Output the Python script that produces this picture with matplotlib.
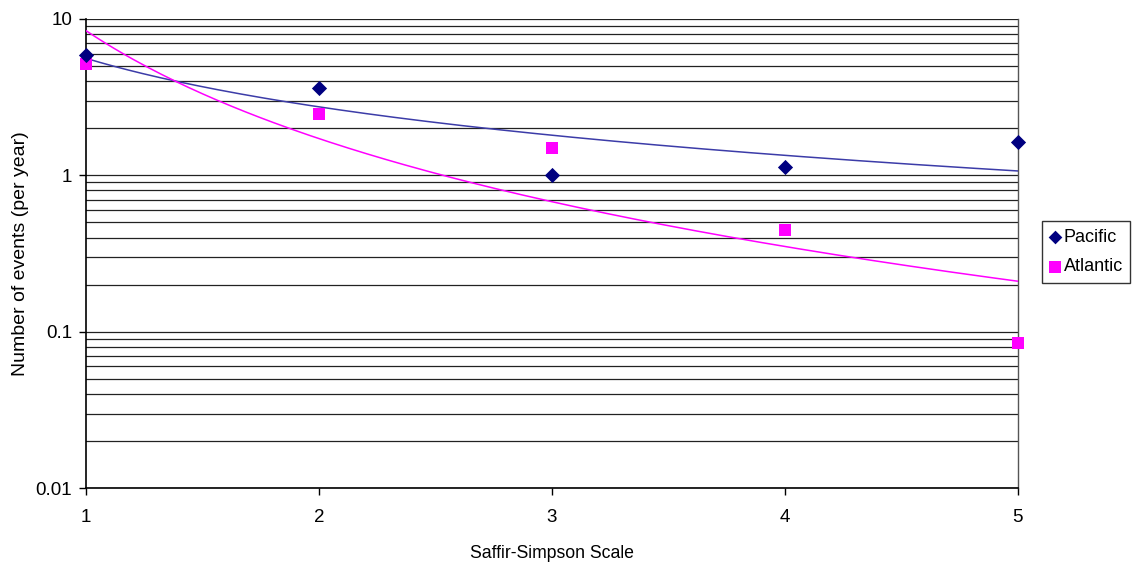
import numpy as np
import matplotlib
matplotlib.use("Agg")
import matplotlib.pyplot as plt
from matplotlib.ticker import FixedLocator, FixedFormatter, NullFormatter, LogLocator

plt.rcParams['font.family'] = ['Liberation Sans', 'DejaVu Sans']

scale = [1, 2, 3, 4, 5]
pacific = [5.88, 3.61, 1.01, 1.13, 1.63]
atlantic = [5.15, 2.46, 1.49, 0.45, 0.085]

fig = plt.figure(figsize=(11.32, 5.71), dpi=100)
ax = fig.add_axes([0.076, 0.145, 0.823, 0.822])
ax.set_yscale('log')
ax.set_xlim(1, 5)
ax.set_ylim(0.01, 10)

# horizontal gridlines at all log ticks
ax.yaxis.set_major_locator(FixedLocator([0.01, 0.1, 1, 10]))
ax.yaxis.set_major_formatter(FixedFormatter(['0.01', '0.1', '1', '10']))
ax.yaxis.set_minor_locator(LogLocator(base=10, subs=np.arange(2, 10)))
ax.yaxis.set_minor_formatter(NullFormatter())
ax.grid(True, which='both', axis='y', color='#222222', linewidth=0.9)
ax.set_axisbelow(True)

ax.set_xticks(scale)
ax.set_xticklabels([str(s) for s in scale])

ax.tick_params(axis='both', which='major', direction='out', length=5, width=1, labelsize=13.5)
ax.tick_params(axis='x', which='major', pad=10)
ax.tick_params(axis='y', which='major', pad=5)
ax.tick_params(axis='y', which='minor', length=0)

for s in ['left', 'bottom']:
    ax.spines[s].set_color('black')
    ax.spines[s].set_linewidth(1.2)
ax.spines['right'].set_color('#555555')
ax.spines['right'].set_linewidth(1.0)
ax.spines['top'].set_visible(False)

# power-law trendlines (least squares in log-log space)
xs = np.linspace(1, 5, 200)
def power_fit(x, y):
    b, lna = np.polyfit(np.log(x), np.log(y), 1)
    return np.exp(lna) * xs ** b

ax.plot(xs, power_fit(scale, pacific), color='#3c3ca8', linewidth=1.1, zorder=3)
ax.plot(xs, power_fit(scale, atlantic), color='#ff00ff', linewidth=1.1, zorder=3)

ax.scatter(scale, pacific, marker='D', s=60, color='#000080', zorder=5, clip_on=False, label='Pacific', linewidths=0)
ax.scatter(scale, atlantic, marker='s', s=80, color='#ff00ff', zorder=4, clip_on=False, label='Atlantic', linewidths=0)

ax.set_xlabel('Saffir-Simpson Scale', fontsize=12.7, labelpad=14)
ax.set_ylabel('Number of events (per year)', fontsize=14, labelpad=5)

leg = fig.legend(loc='center left', bbox_to_anchor=(0.9205, 0.5587), borderaxespad=0,
                 frameon=True, fancybox=False, edgecolor='black', fontsize=13,
                 handletextpad=0.2, borderpad=0.4, labelspacing=0.7, handlelength=0.6,
                 scatterpoints=1, markerscale=0.9)
leg.get_frame().set_linewidth(1.0)

fig.savefig('out.png', dpi=100)
